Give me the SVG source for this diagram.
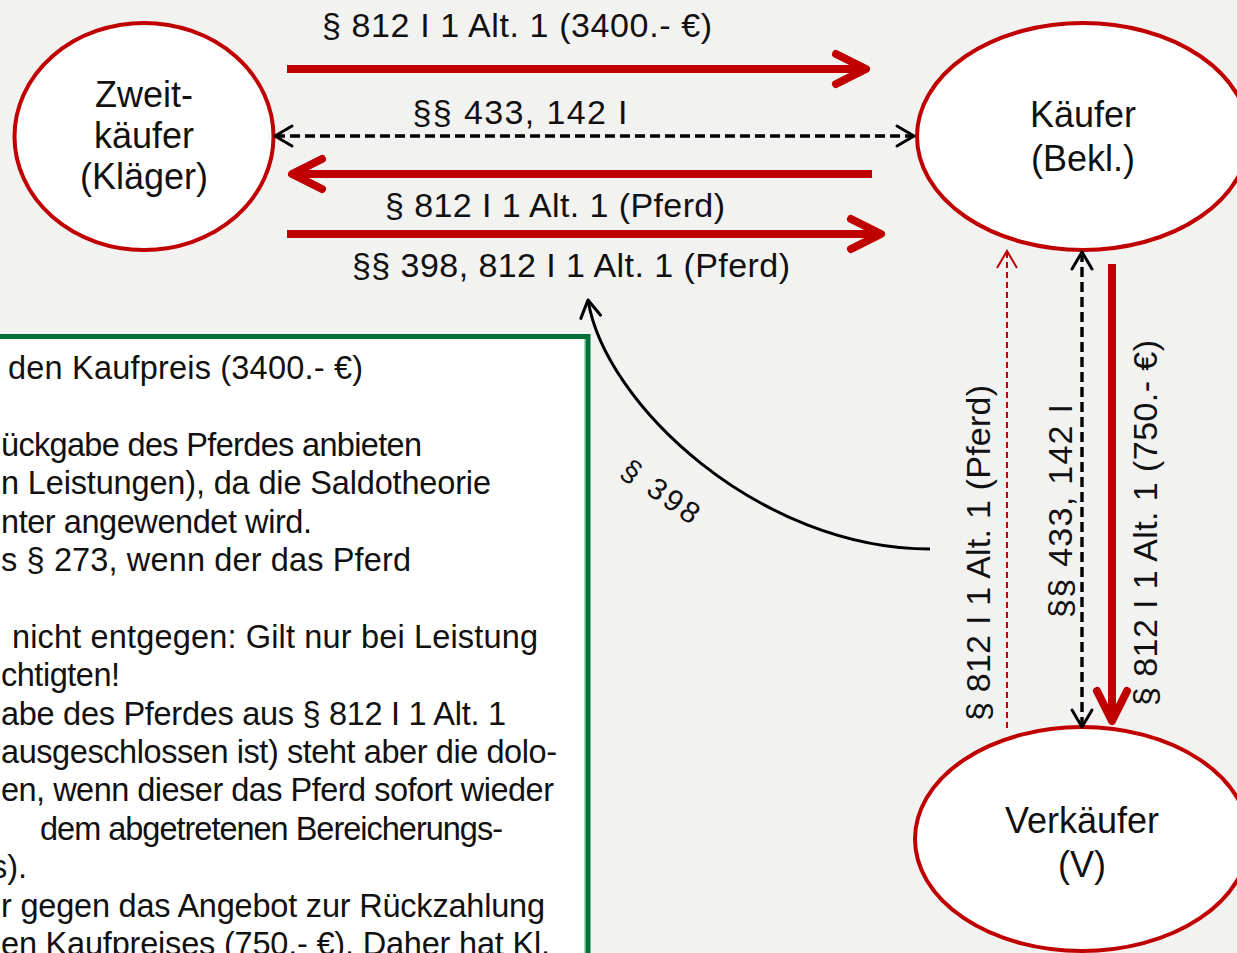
<svg xmlns="http://www.w3.org/2000/svg" width="1237" height="953" viewBox="0 0 1237 953">
<style>
text{font-family:"Liberation Sans",Arial,sans-serif;fill:#111;}
.lbl{font-size:34px;text-anchor:middle;}
.nd{font-size:36px;text-anchor:middle;}
.box{font-size:32.5px;text-anchor:start;}
.ell{fill:#fff;stroke:#C00000;stroke-width:4;}
.red{stroke:#C00000;stroke-width:8;fill:none;}
.dash{stroke:#000;stroke-width:3.4;fill:none;stroke-dasharray:10 5;}
.tdash{stroke:#C00000;stroke-width:2;fill:none;stroke-dasharray:6 4;}
</style>
<defs>
<marker id="hRed" markerUnits="userSpaceOnUse" viewBox="-45 -25 55 50" markerWidth="55" markerHeight="50" refX="0" refY="0" orient="auto-start-reverse" overflow="visible">
<path d="M-30,-15 L0,0 L-30,15" fill="none" stroke="#C00000" stroke-width="8" stroke-linecap="round" stroke-linejoin="round"/>
</marker>
<marker id="hBlk" markerUnits="userSpaceOnUse" viewBox="-25 -15 30 30" markerWidth="30" markerHeight="30" refX="0" refY="0" orient="auto-start-reverse" overflow="visible">
<path d="M-17,-10 L0,0 L-17,10" fill="none" stroke="#000" stroke-width="3" stroke-linecap="round" stroke-linejoin="round"/>
</marker>
<marker id="hThin" markerUnits="userSpaceOnUse" viewBox="-25 -15 30 30" markerWidth="30" markerHeight="30" refX="0" refY="0" orient="auto-start-reverse" overflow="visible">
<path d="M-17,-10 L0,0 L-17,10" fill="none" stroke="#C00000" stroke-width="2"/>
</marker>
</defs>
<rect x="0" y="0" width="1237" height="953" fill="#F2F2F1"/>

<g id="textbox">
<rect x="-20" y="336.5" width="608" height="660" fill="#fff" stroke="#00703A" stroke-width="5"/>
<line x1="585" y1="339" x2="585" y2="953" stroke="#5DBB7F" stroke-width="1.2"/>
<text class="box" x="8" y="379" textLength="355">den Kaufpreis (3400.- €)</text>
<text class="box" x="1" y="455.8" textLength="421">ückgabe des Pferdes anbieten</text>
<text class="box" x="1" y="494.2" textLength="490">n Leistungen), da die Saldotheorie</text>
<text class="box" x="1" y="532.6" textLength="311">nter angewendet wird.</text>
<text class="box" x="1" y="571" textLength="410">s § 273, wenn der das Pferd</text>
<text class="box" x="12" y="647.8" textLength="526">nicht entgegen: Gilt nur bei Leistung</text>
<text class="box" x="1" y="686.2" textLength="119">chtigten!</text>
<text class="box" x="1" y="724.6" textLength="505">abe des Pferdes aus § 812 I 1 Alt. 1</text>
<text class="box" x="1" y="763" textLength="556">ausgeschlossen ist) steht aber die dolo-</text>
<text class="box" x="1" y="801.4" textLength="553">en, wenn dieser das Pferd sofort wieder</text>
<text class="box" x="40" y="839.8" textLength="463">dem abgetretenen Bereicherungs-</text>
<text class="box" x="-9" y="878.2">s).</text>
<text class="box" x="1" y="916.6" textLength="544">r gegen das Angebot zur Rückzahlung</text>
<text class="box" x="1" y="955" textLength="549">en Kaufpreises (750.- €). Daher hat Kl.</text>
</g>

<g id="zweitkaeufer">
<ellipse class="ell" cx="144" cy="136.5" rx="129.5" ry="113.5"/>
<text class="nd" x="144" y="107">Zweit-</text>
<text class="nd" x="144" y="148">käufer</text>
<text class="nd" x="144" y="189">(Kläger)</text>
</g>

<g id="kaeufer">
<ellipse class="ell" cx="1083" cy="136.5" rx="166" ry="113.5"/>
<text class="nd" x="1083" y="127">Käufer</text>
<text class="nd" x="1083" y="171">(Bekl.)</text>
</g>

<g id="verkaeufer">
<ellipse class="ell" cx="1082" cy="839" rx="167" ry="112"/>
<text class="nd" x="1082" y="833">Verkäufer</text>
<text class="nd" x="1082" y="877">(V)</text>
</g>

<g id="connectors">
<line class="red" x1="287" y1="69" x2="866" y2="69" marker-end="url(#hRed)"/>
<line class="dash" x1="275" y1="136" x2="914" y2="136" marker-start="url(#hBlk)" marker-end="url(#hBlk)"/>
<line class="red" x1="872" y1="174" x2="292" y2="174" marker-end="url(#hRed)"/>
<line class="red" x1="287" y1="234" x2="881" y2="234" marker-end="url(#hRed)"/>
<path d="M930,549 C760,549 605,405 588,300" fill="none" stroke="#000" stroke-width="3" marker-end="url(#hBlk)"/>
<line class="tdash" x1="1007" y1="728" x2="1007" y2="251" marker-end="url(#hThin)"/>
<line class="dash" x1="1082" y1="252" x2="1082" y2="727" marker-start="url(#hBlk)" marker-end="url(#hBlk)"/>
<line class="red" x1="1112" y1="264" x2="1112" y2="721" marker-end="url(#hRed)"/>
</g>

<g id="labels">
<text class="lbl" x="517" y="37" textLength="390">§ 812 I 1 Alt. 1 (3400.- €)</text>
<text class="lbl" x="520" y="124" textLength="215">§§ 433, 142 I</text>
<text class="lbl" x="555" y="217" textLength="340">§ 812 I 1 Alt. 1 (Pferd)</text>
<text class="lbl" x="571" y="277" textLength="438">§§ 398, 812 I 1 Alt. 1 (Pferd)</text>
<text class="lbl" style="font-size:30px" transform="translate(655,500) rotate(35)" textLength="88">§ 398</text>
<text class="lbl" transform="translate(990,553) rotate(-90)" textLength="336">§ 812 I 1 Alt. 1 (Pferd)</text>
<text class="lbl" transform="translate(1072,511) rotate(-90)" textLength="214">§§ 433, 142 I</text>
<text class="lbl" transform="translate(1157,523) rotate(-90)" textLength="366">§ 812 I 1 Alt. 1 (750.- €)</text>
</g>
</svg>
